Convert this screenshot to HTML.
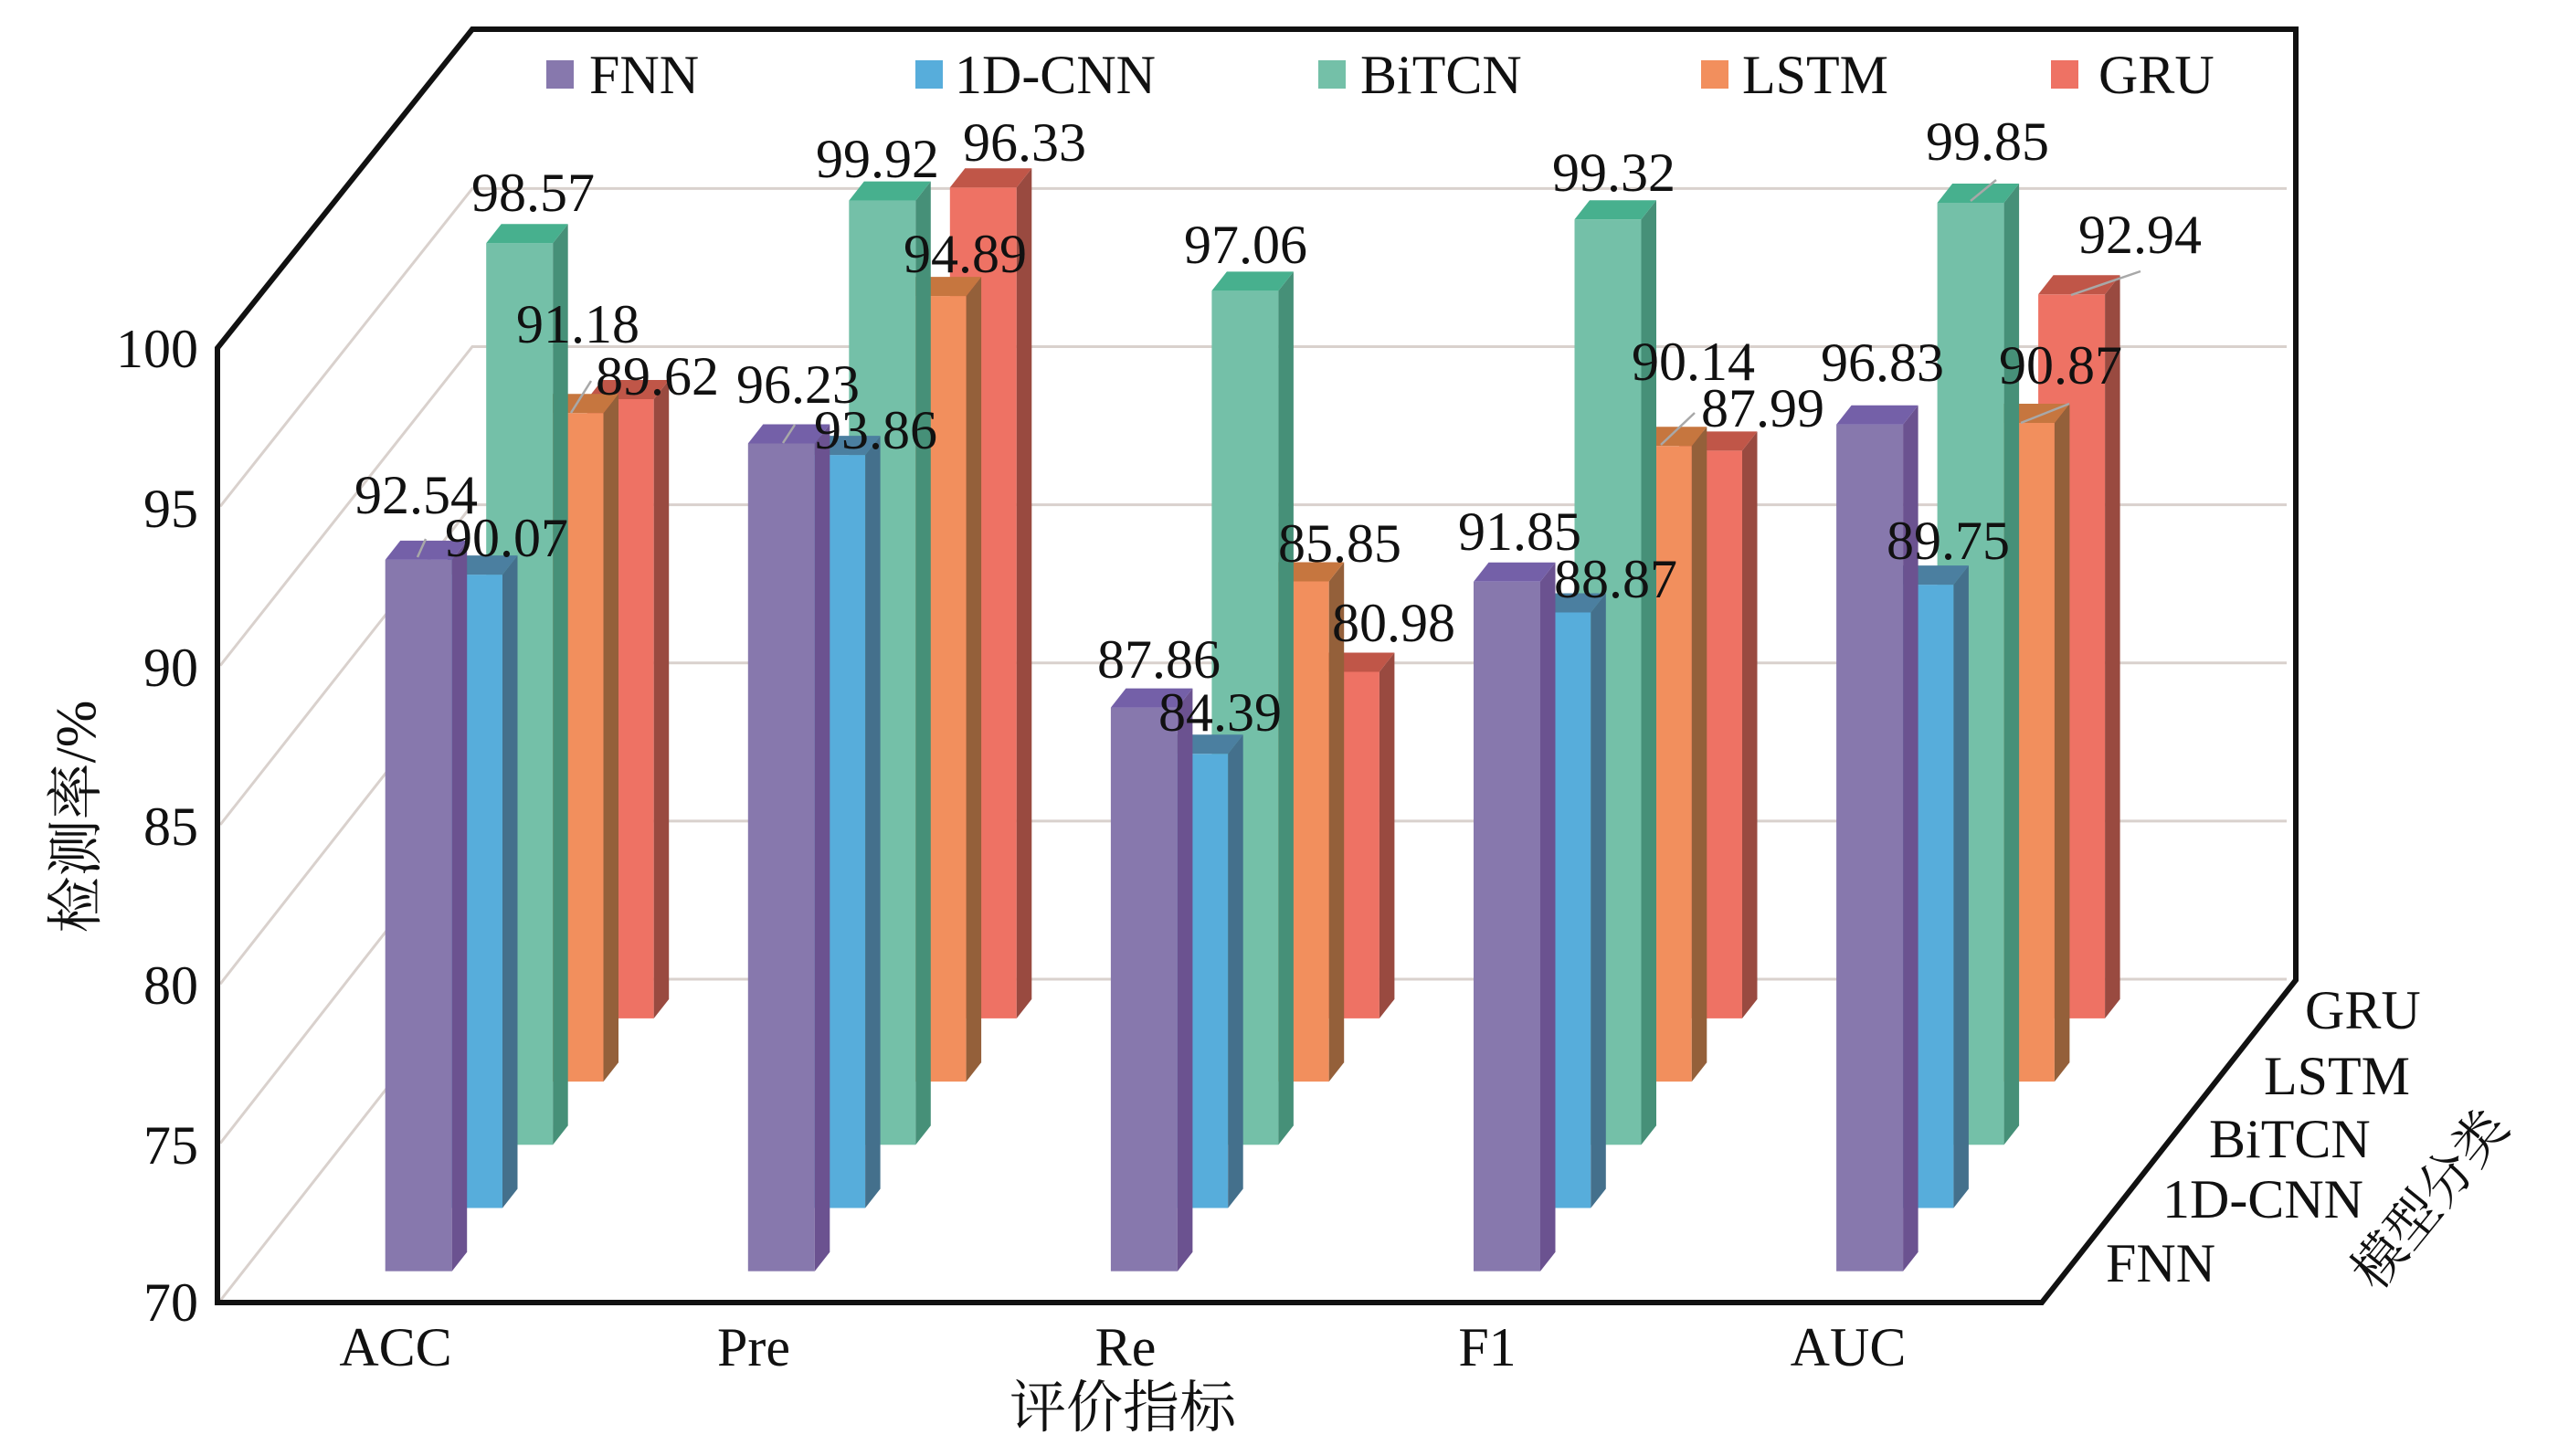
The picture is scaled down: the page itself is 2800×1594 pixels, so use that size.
<!DOCTYPE html>
<html><head><meta charset="utf-8"><style>
html,body{margin:0;padding:0;background:#fff;}
svg{display:block;}
text{font-family:"Liberation Serif","Noto Serif CJK SC",serif;fill:#111;}
</style></head><body>
<svg width="2800" height="1594" viewBox="0 0 2800 1594" xmlns="http://www.w3.org/2000/svg">
<rect width="2800" height="1594" fill="#fff"/>
<!-- gridlines -->
<g stroke="#d9d1cd" stroke-width="3" fill="none">
<path d="M241,1424 L517,1072 H2503"/>
<path d="M241,1251.7 L517,898.9 H2503"/>
<path d="M241,1077.3 L517,725.7 H2503"/>
<path d="M241,903 L517,552.6 H2503"/>
<path d="M241,728.7 L517,379.5 H2503"/>
<path d="M241,554.4 L517,206.4 H2503"/>
</g>
<!-- frame -->
<path d="M238,1426 V381 L517,32 H2513 V1073 L2235,1426 Z" fill="none" stroke="#111" stroke-width="6" stroke-linejoin="miter"/>

<!-- Row 4 GRU -->
<g>
<g fill="#ee7264"><rect x="642.7" y="437" width="73" height="677.9"/><rect x="1039.8" y="205.2" width="73" height="909.7"/><rect x="1436.9" y="735.5" width="73" height="379.4"/><rect x="1834" y="493.4" width="73" height="621.5"/><rect x="2231.1" y="322.3" width="73" height="792.6"/></g>
<g fill="#994a40"><path d="M715.7,437 l16.5,-21 V1093.9 l-16.5,21 Z"/><path d="M1112.8,205.2 l16.5,-21 V1093.9 l-16.5,21 Z"/><path d="M1509.9,735.5 l16.5,-21 V1093.9 l-16.5,21 Z"/><path d="M1907,493.4 l16.5,-21 V1093.9 l-16.5,21 Z"/><path d="M2304.1,322.3 l16.5,-21 V1093.9 l-16.5,21 Z"/></g>
<g fill="#c05648"><path d="M642.7,437 l16.5,-21 h73 l-16.5,21 Z"/><path d="M1039.8,205.2 l16.5,-21 h73 l-16.5,21 Z"/><path d="M1436.9,735.5 l16.5,-21 h73 l-16.5,21 Z"/><path d="M1834,493.4 l16.5,-21 h73 l-16.5,21 Z"/><path d="M2231.1,322.3 l16.5,-21 h73 l-16.5,21 Z"/></g>
</g>
<!-- Row 3 LSTM -->
<g>
<g fill="#f28f5d"><rect x="587.5" y="452.3" width="73" height="731.8"/><rect x="984.6" y="324.1" width="73" height="860"/><rect x="1381.7" y="636.5" width="73" height="547.6"/><rect x="1778.8" y="488.3" width="73" height="695.8"/><rect x="2175.9" y="463" width="73" height="721.1"/></g>
<g fill="#94603a"><path d="M660.5,452.3 l16.5,-21 V1163.1 l-16.5,21 Z"/><path d="M1057.6,324.1 l16.5,-21 V1163.1 l-16.5,21 Z"/><path d="M1454.7,636.5 l16.5,-21 V1163.1 l-16.5,21 Z"/><path d="M1851.8,488.3 l16.5,-21 V1163.1 l-16.5,21 Z"/><path d="M2248.9,463 l16.5,-21 V1163.1 l-16.5,21 Z"/></g>
<g fill="#c6763f"><path d="M587.5,452.3 l16.5,-21 h73 l-16.5,21 Z"/><path d="M984.6,324.1 l16.5,-21 h73 l-16.5,21 Z"/><path d="M1381.7,636.5 l16.5,-21 h73 l-16.5,21 Z"/><path d="M1778.8,488.3 l16.5,-21 h73 l-16.5,21 Z"/><path d="M2175.9,463 l16.5,-21 h73 l-16.5,21 Z"/></g>
</g>
<!-- Row 2 BiTCN -->
<g>
<g fill="#74c0a8"><rect x="532.2" y="266.2" width="73" height="987.1"/><rect x="929.3" y="219.6" width="73" height="1033.7"/><rect x="1326.4" y="318.4" width="73" height="934.9"/><rect x="1723.5" y="240.3" width="73" height="1013"/><rect x="2120.6" y="222" width="73" height="1031.3"/></g>
<g fill="#469078"><path d="M605.2,266.2 l16.5,-21 V1232.3 l-16.5,21 Z"/><path d="M1002.3,219.6 l16.5,-21 V1232.3 l-16.5,21 Z"/><path d="M1399.4,318.4 l16.5,-21 V1232.3 l-16.5,21 Z"/><path d="M1796.5,240.3 l16.5,-21 V1232.3 l-16.5,21 Z"/><path d="M2193.6,222 l16.5,-21 V1232.3 l-16.5,21 Z"/></g>
<g fill="#47b08e"><path d="M532.2,266.2 l16.5,-21 h73 l-16.5,21 Z"/><path d="M929.3,219.6 l16.5,-21 h73 l-16.5,21 Z"/><path d="M1326.4,318.4 l16.5,-21 h73 l-16.5,21 Z"/><path d="M1723.5,240.3 l16.5,-21 h73 l-16.5,21 Z"/><path d="M2120.6,222 l16.5,-21 h73 l-16.5,21 Z"/></g>
</g>
<!-- Row 1 1D-CNN -->
<g>
<g fill="#57addb"><rect x="477" y="629.1" width="73" height="693.4"/><rect x="874.1" y="498.1" width="73" height="824.4"/><rect x="1271.2" y="825.3" width="73" height="497.2"/><rect x="1668.3" y="670.5" width="73" height="652"/><rect x="2065.4" y="640.1" width="73" height="682.4"/></g>
<g fill="#44708c"><path d="M550,629.1 l16.5,-21 V1301.5 l-16.5,21 Z"/><path d="M947.1,498.1 l16.5,-21 V1301.5 l-16.5,21 Z"/><path d="M1344.2,825.3 l16.5,-21 V1301.5 l-16.5,21 Z"/><path d="M1741.3,670.5 l16.5,-21 V1301.5 l-16.5,21 Z"/><path d="M2138.4,640.1 l16.5,-21 V1301.5 l-16.5,21 Z"/></g>
<g fill="#4b7fa0"><path d="M477,629.1 l16.5,-21 h73 l-16.5,21 Z"/><path d="M874.1,498.1 l16.5,-21 h73 l-16.5,21 Z"/><path d="M1271.2,825.3 l16.5,-21 h73 l-16.5,21 Z"/><path d="M1668.3,670.5 l16.5,-21 h73 l-16.5,21 Z"/><path d="M2065.4,640.1 l16.5,-21 h73 l-16.5,21 Z"/></g>
</g>
<!-- Row 0 FNN -->
<g>
<g fill="#8778ad"><rect x="421.7" y="612.9" width="73" height="778.8"/><rect x="818.8" y="485.5" width="73" height="906.2"/><rect x="1215.9" y="774.6" width="73" height="617.1"/><rect x="1613" y="636.8" width="73" height="754.9"/><rect x="2010.1" y="464.7" width="73" height="927"/></g>
<g fill="#6b5290"><path d="M494.7,612.9 l16.5,-21 V1370.7 l-16.5,21 Z"/><path d="M891.8,485.5 l16.5,-21 V1370.7 l-16.5,21 Z"/><path d="M1288.9,774.6 l16.5,-21 V1370.7 l-16.5,21 Z"/><path d="M1686,636.8 l16.5,-21 V1370.7 l-16.5,21 Z"/><path d="M2083.1,464.7 l16.5,-21 V1370.7 l-16.5,21 Z"/></g>
<g fill="#7460a8"><path d="M421.7,612.9 l16.5,-21 h73 l-16.5,21 Z"/><path d="M818.8,485.5 l16.5,-21 h73 l-16.5,21 Z"/><path d="M1215.9,774.6 l16.5,-21 h73 l-16.5,21 Z"/><path d="M1613,636.8 l16.5,-21 h73 l-16.5,21 Z"/><path d="M2010.1,464.7 l16.5,-21 h73 l-16.5,21 Z"/></g>
</g>

<!-- leader lines -->
<g stroke="#a8a8a8" stroke-width="2.5">
<line x1="457" y1="610" x2="466" y2="590"/>
<line x1="625" y1="452" x2="647" y2="417"/>
<line x1="857" y1="485" x2="870" y2="465"/>
<line x1="1818" y1="487" x2="1855" y2="452"/>
<line x1="2157" y1="220" x2="2185" y2="197"/>
<line x1="2267" y1="323" x2="2343" y2="297"/>
<line x1="2212" y1="463" x2="2265" y2="442"/>
</g>

<!-- y tick labels -->
<g font-size="60" text-anchor="end">
<text x="217" y="402">100</text>
<text x="217" y="577">95</text>
<text x="217" y="751">90</text>
<text x="217" y="925">85</text>
<text x="217" y="1099">80</text>
<text x="217" y="1274">75</text>
<text x="217" y="1446">70</text>
</g>

<!-- category labels -->
<g font-size="60" text-anchor="middle">
<text x="433" y="1495">ACC</text>
<text x="825" y="1495">Pre</text>
<text x="1232" y="1495">Re</text>
<text x="1628" y="1495">F1</text>
<text x="2023" y="1495">AUC</text>
</g>
<text x="1229" y="1562" font-size="62" text-anchor="middle">评价指标</text>
<text transform="translate(84,894) rotate(-90)" font-size="62" text-anchor="middle" dominant-baseline="central">检测率/%</text>

<!-- depth labels -->
<g font-size="60">
<text x="2305" y="1403">FNN</text>
<text x="2367" y="1333">1D-CNN</text>
<text x="2418" y="1267">BiTCN</text>
<text x="2478" y="1198">LSTM</text>
<text x="2523" y="1126">GRU</text>
</g>
<text transform="translate(2660,1313) rotate(-51)" font-size="58" text-anchor="middle" dominant-baseline="central">模型分类</text>

<!-- legend -->
<rect x="598" y="66" width="30" height="31" fill="#8778ad"/>
<rect x="1002" y="66" width="30" height="31" fill="#57addb"/>
<rect x="1443" y="66" width="30" height="31" fill="#74c0a8"/>
<rect x="1862" y="66" width="30" height="31" fill="#f28f5d"/>
<rect x="2245" y="66" width="30" height="31" fill="#ee7264"/>
<g font-size="60">
<text x="645" y="102">FNN</text>
<text x="1045" y="102">1D-CNN</text>
<text x="1489" y="102">BiTCN</text>
<text x="1907" y="102">LSTM</text>
<text x="2297" y="102">GRU</text>
</g>

<!-- data labels -->
<g font-size="60">
<text x="388" y="562">92.54</text>
<text x="487" y="609">90.07</text>
<text x="516" y="231">98.57</text>
<text x="565" y="375">91.18</text>
<text x="652" y="432">89.62</text>
<text x="806" y="441">96.23</text>
<text x="891" y="491">93.86</text>
<text x="893" y="194">99.92</text>
<text x="1054" y="176">96.33</text>
<text x="989" y="298">94.89</text>
<text x="1296" y="288">97.06</text>
<text x="1201" y="742">87.86</text>
<text x="1268" y="800">84.39</text>
<text x="1399" y="615">85.85</text>
<text x="1458" y="702">80.98</text>
<text x="1596" y="602">91.85</text>
<text x="1701" y="654">88.87</text>
<text x="1699" y="209">99.32</text>
<text x="1786" y="416">90.14</text>
<text x="1862" y="467">87.99</text>
<text x="1993" y="417">96.83</text>
<text x="2108" y="175">99.85</text>
<text x="2275" y="277">92.94</text>
<text x="2188" y="420">90.87</text>
<text x="2065" y="612">89.75</text>
</g>
</svg>
</body></html>
